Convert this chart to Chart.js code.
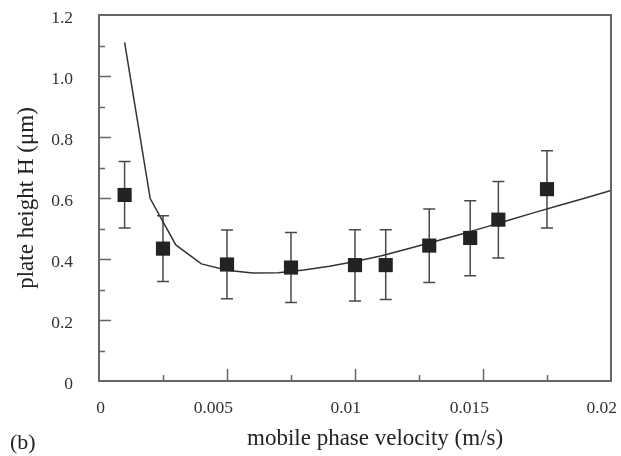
<!DOCTYPE html>
<html>
<head>
<meta charset="utf-8">
<script src="https://cdn.jsdelivr.net/npm/chart.js@4/dist/chart.umd.min.js"></script>
<style>
  html, body { margin: 0; padding: 0; background: #fff; }
  #wrap { position: relative; width: 621px; height: 456px; font-family: "Liberation Serif", "DejaVu Serif", serif; color: #222; }
  #wrap canvas { position: absolute; left: 0; top: 0; }
  .label { position: absolute; white-space: nowrap; line-height: 22px; }
  #x-title { left: 247px; top: 426px; font-size: 23px; line-height: 23px; }
  #panel { left: 10px; top: 431px; font-size: 22px; }
</style>
</head>
<body>
<div id="wrap">
  <canvas id="chart-h" width="621" height="456"></canvas>
  <div class="label" id="x-title">mobile phase velocity (m/s)</div>
  <div class="label" id="panel">(b)</div>
</div>
<script>
// measured points (squares with error bars)
const velocity = [0.001, 0.0025, 0.005, 0.0075, 0.01, 0.0112, 0.0129, 0.0145, 0.0156, 0.0175];
const plateHeight = [0.61, 0.434, 0.382, 0.372, 0.38, 0.38, 0.444, 0.469, 0.529, 0.629];
const errLow = [0.502, 0.326, 0.27, 0.257, 0.262, 0.267, 0.323, 0.345, 0.403, 0.502];
const errHigh = [0.72, 0.542, 0.495, 0.487, 0.496, 0.496, 0.564, 0.591, 0.654, 0.755];

// model curve
const modelVelocity = [0.001, 0.002, 0.003, 0.004, 0.005, 0.006, 0.007, 0.008, 0.009, 0.01,
  0.011, 0.012, 0.013, 0.014, 0.015, 0.016, 0.017, 0.018, 0.019, 0.02];
const modelHeight = [1.11, 0.598, 0.446, 0.384, 0.363, 0.354, 0.355, 0.364, 0.376, 0.392,
  0.41, 0.432, 0.455, 0.478, 0.502, 0.527, 0.552, 0.576, 0.6, 0.625];

const xTickValues = ['0', '0.005', '0.01', '0.015', '0.02'];
const yTickValues = ['0', '0.2', '0.4', '0.6', '0.8', '1.0', '1.2'];

const AXIS_COLOR = '#666';
const FONT = '"Liberation Serif", "DejaVu Serif", serif';

function isMajorX(value) {
  return Math.round(value / 0.0025) % 2 === 0;
}

function isMajorY(value) {
  return Math.round(value * 10) % 2 === 0;
}

// keep the plot box fixed, labels may hang outside it
function fixBox(scale, size) {
  if (scale.isHorizontal()) scale.height = size;
  else scale.width = size;
  scale.paddingTop = 0;
  scale.paddingBottom = 0;
  scale.paddingLeft = 0;
  scale.paddingRight = 0;
}

const errorBars = {
  id: 'errorBars',
  beforeDatasetsDraw(chart) {
    const { ctx, scales: { x, y } } = chart;
    ctx.save();
    ctx.strokeStyle = '#4a4a4a';
    ctx.lineWidth = 1.5;
    velocity.forEach((v, i) => {
      const px = x.getPixelForValue(v);
      const top = y.getPixelForValue(errHigh[i]);
      const bottom = y.getPixelForValue(errLow[i]);
      ctx.beginPath();
      ctx.moveTo(px, top);
      ctx.lineTo(px, bottom);
      ctx.moveTo(px - 6, top);
      ctx.lineTo(px + 6, top);
      ctx.moveTo(px - 6, bottom);
      ctx.lineTo(px + 6, bottom);
      ctx.stroke();
    });
    ctx.restore();
  },
};

// box frame and inward tick marks
const frame = {
  id: 'frame',
  afterDraw(chart) {
    const { ctx, chartArea: a, scales: { x, y } } = chart;
    ctx.save();
    ctx.strokeStyle = AXIS_COLOR;
    ctx.lineWidth = 1.5;
    ctx.beginPath();
    x.ticks.forEach((t) => {
      if (t.value <= x.min || t.value >= x.max) return;
      const px = Math.round(x.getPixelForValue(t.value)) + 0.5;
      ctx.moveTo(px, a.bottom);
      ctx.lineTo(px, a.bottom - (isMajorX(t.value) ? 12 : 6));
    });
    y.ticks.forEach((t) => {
      if (t.value <= y.min || t.value >= y.max) return;
      const py = Math.round(y.getPixelForValue(t.value)) + 0.5;
      ctx.moveTo(a.left, py);
      ctx.lineTo(a.left + (isMajorY(t.value) ? 12 : 6), py);
    });
    ctx.stroke();
    ctx.lineWidth = 2;
    ctx.strokeRect(a.left, a.top, a.right - a.left, a.bottom - a.top);
    ctx.restore();
  },
};

new Chart(document.getElementById('chart-h'), {
  type: 'scatter',
  data: {
    datasets: [
      {
        label: 'measured',
        data: velocity.map((v, i) => ({ x: v, y: plateHeight[i] })),
        pointStyle: 'rect',
        pointRadius: 10,
        pointHoverRadius: 10,
        backgroundColor: '#232323',
        borderWidth: 0,
      },
      {
        label: 'model',
        data: modelVelocity.map((v, i) => ({ x: v, y: modelHeight[i] })),
        showLine: true,
        tension: 0,
        pointRadius: 0,
        borderColor: '#333',
        borderWidth: 1.5,
      },
    ],
  },
  options: {
    responsive: false,
    animation: false,
    layout: { padding: { top: 15, right: 8, left: 0, bottom: 0 } },
    plugins: { legend: { display: false }, tooltip: { enabled: false } },
    scales: {
      x: {
        type: 'linear',
        min: 0,
        max: 0.02,
        grid: { display: false, drawTicks: false },
        border: { display: false },
        ticks: {
          stepSize: 0.0025,
          autoSkip: false,
          maxRotation: 0,
          align: 'end',
          labelOffset: 6,
          padding: 17,
          color: '#333',
          font: { family: FONT, size: 17.5 },
          callback: (value) => {
            const k = Math.round(value / 0.0025);
            return k % 2 ? '' : xTickValues[k / 2];
          },
        },
        afterFit: (scale) => fixBox(scale, 75),
      },
      y: {
        type: 'linear',
        min: 0,
        max: 1.2,
        grid: { display: false, drawTicks: false },
        border: { display: false },
        ticks: {
          stepSize: 0.1,
          autoSkip: false,
          padding: 26,
          labelOffset: 3,
          color: '#333',
          font: { family: FONT, size: 17.5 },
          callback: (value) => {
            const k = Math.round(value * 10);
            return k % 2 ? '' : yTickValues[k / 2];
          },
        },
        title: {
          display: true,
          text: 'plate height H (μm)',
          color: '#222',
          font: { family: FONT, size: 23 },
          padding: { top: 13, bottom: 0 },
        },
        afterFit: (scale) => fixBox(scale, 99),
      },
    },
  },
  plugins: [errorBars, frame],
});
</script>
</body>
</html>
